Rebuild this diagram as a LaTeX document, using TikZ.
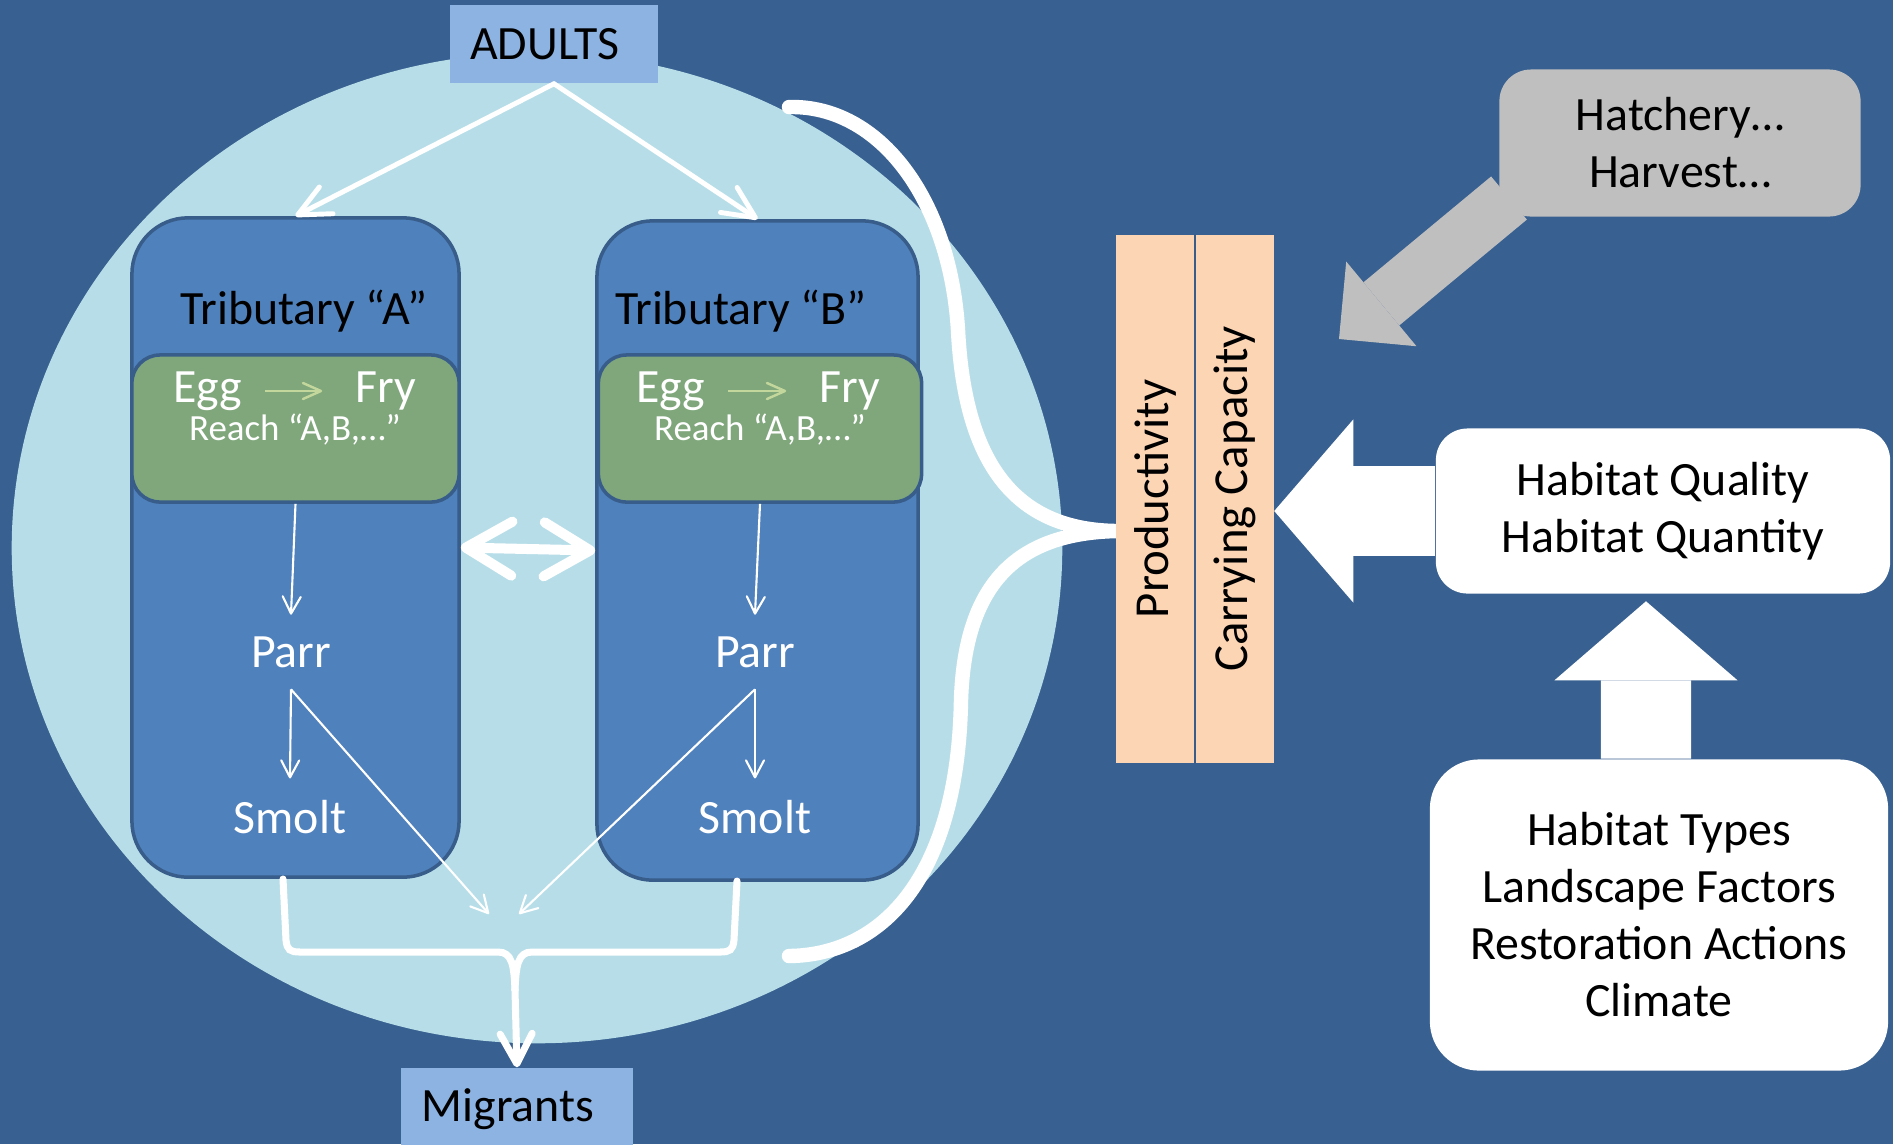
\documentclass[tikz,border=0pt]{standalone}
\usepackage{fontspec}
\setmainfont{Carlito}
\usepackage{xcolor}
\usepackage{tikz}
\usetikzlibrary{arrows.meta}
\usetikzlibrary{calc}

\definecolor{bgblue}{HTML}{386090}
\definecolor{pool}{HTML}{B7DEE8}
\definecolor{tribfill}{HTML}{4F81BD}
\definecolor{tribline}{HTML}{385D8A}
\definecolor{reachgreen}{HTML}{7FA77B}
\definecolor{eggfry}{HTML}{C3D69B}
\definecolor{stageblue}{HTML}{8DB3E2}
\definecolor{peach}{HTML}{FCD5B5}
\definecolor{hatchgray}{HTML}{BFBFBF}

\begin{document}
\begin{tikzpicture}[x=0.01cm,y=-0.01cm,
    bigtext/.style={font=\fontsize{13.6}{16.2}\selectfont},
    smalltext/.style={font=\fontsize{10.5}{12}\selectfont},
    tribbox/.style={draw=tribline,fill=tribfill,line width=1pt,rounded corners=16pt,minimum height=6.59cm},
    reachbox/.style={draw=tribline,fill=reachgreen,line width=1pt,rounded corners=8pt,minimum height=1.47cm},
    stagebox/.style={fill=stageblue,bigtext,text=black},
    capbox/.style={fill=peach,font=\fontsize{13.9}{16}\selectfont,text=black,rotate=90,minimum width=5.28cm,minimum height=0.78cm},
    whitebox/.style={fill=white,bigtext,text=black,align=center},
    graybox/.style={fill=hatchgray,bigtext,text=black,align=center,rounded corners=9pt},
    lifetext/.style={bigtext,text=white,inner sep=6pt},
    thinarrow/.style={white,line width=0.6pt,-{Straight Barb[length=1.7mm,width=1.8mm,round]}},
    eggarrow/.style={eggfry,line width=0.7pt,shorten <=3pt,shorten >=6pt,-{Straight Barb[length=1.8mm,width=1.6mm,round]}},
    adultarrow/.style={white,line width=1.4pt,line cap=round,-{Straight Barb[length=3.2mm,width=3mm,round]}},
    swaparrow/.style={white,line width=2.85pt,{Straight Barb[length=4.6mm,width=5.4mm,round]}-{Straight Barb[length=4.6mm,width=5.4mm,round]}},
    bracket/.style={white,line width=2pt,line cap=round},
    brace/.style={white,line width=4.1pt,line cap=round},
    whiteblock/.style={white,line width=0.9cm,-{Triangle[length=0.79cm,width=1.83cm,line width=0pt]}},
    grayblock/.style={hatchgray,line width=0.56cm,-{Triangle[length=0.55cm,width=1.1cm,line width=0pt]}}]

    \fill[bgblue] (0,0) rectangle (1893,1144);
    \useasboundingbox (0,0) rectangle (1893,1144);

    \fill[pool] (537,548) ellipse [x radius=5.25cm,y radius=4.95cm];

    \coordinate (braceTop) at (789,107);
    \coordinate (braceTip) at (1117,531);
    \coordinate (braceBot) at (789,956);
    \draw[brace] (braceTop) .. controls (880,105) and (950,200) .. (958,330)
        .. controls (965,470) and (1020,530) .. (braceTip)
        .. controls (1020,533) and (965,580) .. (961,700)
        .. controls (958,880) and (880,955) .. (braceBot);

    \node[stagebox,minimum width=2.08cm,minimum height=0.78cm] (adults) at (554,44) {ADULTS\kern0.18cm};
    \node[stagebox,minimum width=2.31cm,minimum height=0.82cm] (migrants) at (517,1109) {Migrants\kern0.18cm};

    \node[tribbox,minimum width=3.27cm] (tribA) at (295.5,547.5) {};
    \node[tribbox,minimum width=3.21cm] (tribB) at (757.5,550.5) {};

    \node[reachbox,minimum width=3.27cm] (reachA) at (295.5,428.5) {};
    \node[reachbox,minimum width=3.23cm] (reachB) at (760,428.5) {};

    \node[bigtext] (nameA) at (304,311) {Tributary “A”};
    \node[bigtext] (nameB) at (741,311) {Tributary “B”};

    \node[bigtext,text=white] (eggA) at (208,391) {Egg};
    \node[bigtext,text=white] (fryA) at (386,391) {Fry};
    \node[smalltext,text=white] (spotA) at (295,430) {Reach “A,B,…”};
    \node[bigtext,text=white] (eggB) at (671,391) {Egg};
    \node[bigtext,text=white] (fryB) at (850,391) {Fry};
    \node[smalltext,text=white] (spotB) at (760,430) {Reach “A,B,…”};

    \node[lifetext] (parrA) at (291,652) {Parr};
    \node[lifetext] (smoltA) at (290,817) {Smolt};
    \node[lifetext] (parrB) at (755,652) {Parr};
    \node[lifetext] (smoltB) at (755,817) {Smolt};

    \coordinate (mergeA) at (489,914);
    \coordinate (mergeB) at (519,914);
    \coordinate (footA) at (283,879);
    \coordinate (footB) at (737,881);
    \coordinate (hatchTip) at (1339,339);

    \draw[eggarrow] (eggA) -- (fryA);
    \draw[eggarrow] (eggB) -- (fryB);

    \draw[thinarrow] (reachA.south) -- (parrA.north);
    \draw[thinarrow] (parrA.south) -- (smoltA.north);
    \draw[thinarrow] (parrA.south) -- (mergeA);
    \draw[thinarrow] (reachB.south) -- (parrB.north);
    \draw[thinarrow] (parrB.south) -- (smoltB.north);
    \draw[thinarrow] (parrB.south) -- (mergeB);

    \draw[adultarrow] (adults.south) -- (tribA.north);
    \draw[adultarrow] (adults.south) -- (tribB.north);

    \draw[swaparrow] (tribA.east) -- (tribB.west);

    \draw[bracket] (footA) -- (286,940) .. controls (287,950) and (290,952) .. (300,952) -- (498,952)
        .. controls (512,952) and (514,965) .. (515,990);
    \draw[bracket] (footB) -- (734,940) .. controls (733,950) and (730,952) .. (720,952) -- (532,952)
        .. controls (518,952) and (516,965) .. (515,990);
    \draw[bracket,-{Straight Barb[length=3mm,width=3.2mm,round]}] (515,990) -- (migrants.north);

    \node[capbox] (prod) at (1155,499) {Productivity};
    \node[capbox] (carry) at (1234.5,499) {Carrying Capacity};
    \draw[tribline,line width=0.6pt] (prod.south east) -- (prod.south west);

    \node[whitebox,minimum width=4.54cm,minimum height=1.65cm,rounded corners=9pt] (quality) at (1663,511)
        {Habitat Quality\\Habitat Quantity};
    \node[whitebox,minimum width=4.58cm,minimum height=3.11cm,rounded corners=14pt] (types) at (1659,915)
        {Habitat Types\\Landscape Factors\\Restoration Actions\\Climate};

    \draw[grayblock] ([shift={(9,-19)}]1500,217) -- (hatchTip);
    \node[graybox,minimum width=3.61cm,minimum height=1.47cm] (hatch) at (1680,143) {Hatchery…\\Harvest…};

    \draw[whiteblock] (quality.west) -- (quality.west -| carry.south);
    \draw[whiteblock] ([xshift=-0.13cm]types.north) -- ([xshift=-0.17cm,yshift=-0.07cm]quality.south);
\end{tikzpicture}
\end{document}
